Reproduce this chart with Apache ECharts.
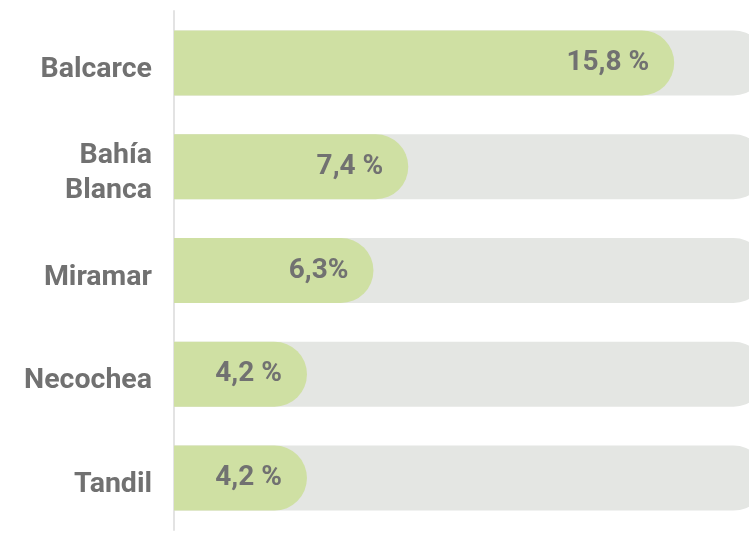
<!DOCTYPE html>
<html>
<head>
<meta charset="utf-8">
<script src="https://cdn.jsdelivr.net/npm/echarts@6/dist/echarts.min.js"></script>
<style>
  html, body { margin: 0; padding: 0; background: #ffffff; }
  #chart { width: 749px; height: 534px; }
</style>
</head>
<body>
<div id="chart"></div>
<script>
// ciudades, de arriba hacia abajo
const cities = ['Balcarce', 'Bahía\nBlanca', 'Miramar', 'Necochea', 'Tandil']
const values = [15.8, 7.4, 6.3, 4.2, 4.2]
const valueLabels = ['15,8 %', '7,4 %', '6,3%', '4,2 %', '4,2 %']

const chart = echarts.init(document.getElementById('chart'))

const textStyle = {
  color: '#717171',
  fontFamily: 'Roboto',
  fontWeight: 'bold'
}

const option = {
  animation: false,
  grid: {
    left: 174,
    width: 592,
    top: 11,
    bottom: 4,
    outerBoundsMode: 'none'
  },
  xAxis: {
    type: 'value',
    min: 0,
    max: 18.7,
    show: false
  },
  yAxis: {
    type: 'category',
    inverse: true,
    data: cities,
    axisTick: { show: false },
    axisLabel: { show: false },
    axisLine: {
      show: true,
      lineStyle: { color: '#e3e3e3', width: 2 }
    }
  },
  series: [
    {
      type: 'bar',
      data: values,
      barWidth: 65,
      showBackground: true,
      backgroundStyle: {
        color: '#e4e6e3',
        borderRadius: [0, 33, 33, 0]
      },
      itemStyle: {
        color: '#cfe0a3',
        borderRadius: [0, 33, 33, 0]
      },
      label: {
        show: true,
        position: 'insideRight',
        distance: 25,
        fontSize: 28,
        ...textStyle,
        formatter: p => valueLabels[p.dataIndex]
      }
    },
    {
      // nombres de las ciudades, un poco por debajo del centro de la barra
      type: 'bar',
      data: values.map(() => 0),
      barWidth: 65,
      barGap: '-100%',
      silent: true,
      itemStyle: { color: 'transparent' },
      label: {
        show: true,
        position: 'left',
        distance: 22,
        offset: [0, 7],
        fontSize: 28.5,
        lineHeight: 35,
        align: 'right',
        ...textStyle,
        formatter: p => cities[p.dataIndex]
      }
    }
  ]
}

chart.setOption(option)
</script>
</body>
</html>
